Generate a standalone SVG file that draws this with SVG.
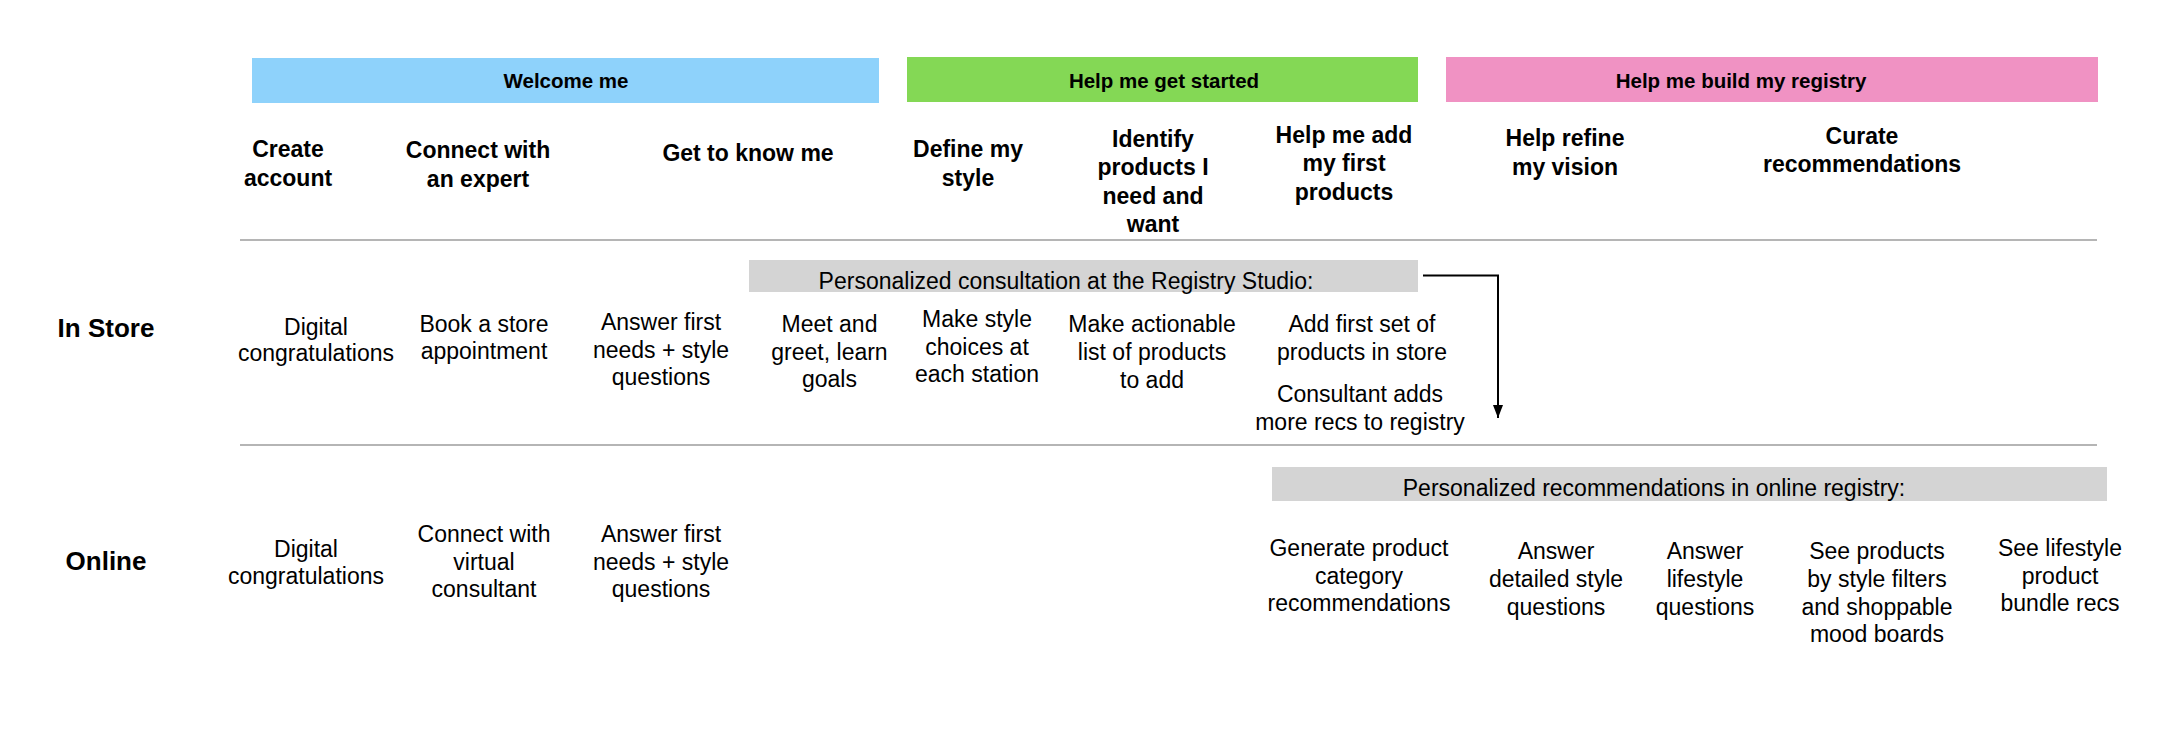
<svg xmlns="http://www.w3.org/2000/svg" width="2174" height="736" viewBox="0 0 2174 736">
<style>
text{font-family:"Liberation Sans",Arial,Helvetica,sans-serif;fill:#000;text-anchor:middle}
.bar{font-size:20.5px;font-weight:bold}
.hd{font-size:23px;font-weight:bold}
.row{font-size:26px;font-weight:bold}
.b{font-size:23px}
.sep{stroke:#B5B5B5;stroke-width:2;fill:none}
.band{fill:#D4D4D4}
</style>
<defs>
<marker id="ah" markerWidth="13" markerHeight="10" refX="13" refY="5" orient="auto" markerUnits="userSpaceOnUse" viewBox="0 0 13 10">
<path d="M0,0 L13,5 L0,10 Z" fill="#000"/>
</marker>
</defs>
<rect width="2174" height="736" fill="#fff"/>

<g id="phase-welcome">
<rect x="252" y="58" width="627" height="45" fill="#8ED2FB"/>
<text class="bar" x="566" y="88">Welcome me</text>
</g>
<g id="phase-started">
<rect x="907" y="57" width="511" height="45" fill="#84D855"/>
<text class="bar" x="1164" y="88">Help me get started</text>
</g>
<g id="phase-build">
<rect x="1446" y="57" width="652" height="45" fill="#F092C3"/>
<text class="bar" x="1741" y="88">Help me build my registry</text>
</g>

<g id="separators">
<line class="sep" x1="240" y1="240" x2="2097" y2="240"/>
<line class="sep" x1="240" y1="445" x2="2097" y2="445"/>
</g>

<g id="h-create"><text class="hd" x="288" y="157">Create<tspan x="288" y="186">account</tspan></text></g>
<g id="h-connect"><text class="hd" x="478" y="158">Connect with<tspan x="478" y="187">an expert</tspan></text></g>
<g id="h-know"><text class="hd" x="748" y="161">Get to know me</text></g>
<g id="h-define"><text class="hd" x="968" y="157">Define my<tspan x="968" y="186">style</tspan></text></g>
<g id="h-identify"><text class="hd" x="1153" y="147">Identify<tspan x="1153" y="175">products I</tspan><tspan x="1153" y="203.5">need and</tspan><tspan x="1153" y="232">want</tspan></text></g>
<g id="h-add"><text class="hd" x="1344" y="142.5">Help me add<tspan x="1344" y="171">my first</tspan><tspan x="1344" y="200">products</tspan></text></g>
<g id="h-refine"><text class="hd" x="1565" y="146">Help refine<tspan x="1565" y="174.5">my vision</tspan></text></g>
<g id="h-curate"><text class="hd" x="1862" y="143.5">Curate<tspan x="1862" y="172">recommendations</tspan></text></g>

<g id="lane-instore"><text class="row" x="106" y="336.5">In Store</text></g>
<g id="lane-online"><text class="row" x="106" y="570">Online</text></g>

<g id="band-studio">
<rect class="band" x="749" y="260" width="669" height="32"/>
<text class="b" x="1066" y="289">Personalized consultation at the Registry Studio:</text>
</g>

<g id="s-digital"><text class="b" x="316" y="335">Digital<tspan x="316" y="361">congratulations</tspan></text></g>
<g id="s-book"><text class="b" x="484" y="332">Book a store<tspan x="484" y="359">appointment</tspan></text></g>
<g id="s-answer"><text class="b" x="661" y="330">Answer first<tspan x="661" y="357.5">needs + style</tspan><tspan x="661" y="384.5">questions</tspan></text></g>
<g id="s-meet"><text class="b" x="829.5" y="332">Meet and<tspan x="829.5" y="359.5">greet, learn</tspan><tspan x="829.5" y="387">goals</tspan></text></g>
<g id="s-style"><text class="b" x="977" y="327">Make style<tspan x="977" y="354.5">choices at</tspan><tspan x="977" y="382">each station</tspan></text></g>
<g id="s-list"><text class="b" x="1152" y="332">Make actionable<tspan x="1152" y="360">list of products</tspan><tspan x="1152" y="387.5">to add</tspan></text></g>
<g id="s-addfirst"><text class="b" x="1362" y="332">Add first set of<tspan x="1362" y="360">products in store</tspan></text></g>
<g id="s-consultant"><text class="b" x="1360" y="402">Consultant adds<tspan x="1360" y="430">more recs to registry</tspan></text></g>

<g id="band-online">
<rect class="band" x="1272" y="467" width="835" height="34"/>
<text class="b" x="1654" y="495.5">Personalized recommendations in online registry:</text>
</g>

<g id="o-digital"><text class="b" x="306" y="557">Digital<tspan x="306" y="583.5">congratulations</tspan></text></g>
<g id="o-connect"><text class="b" x="484" y="542">Connect with<tspan x="484" y="570">virtual</tspan><tspan x="484" y="597">consultant</tspan></text></g>
<g id="o-answer"><text class="b" x="661" y="542">Answer first<tspan x="661" y="570">needs + style</tspan><tspan x="661" y="597">questions</tspan></text></g>
<g id="o-generate"><text class="b" x="1359" y="556">Generate product<tspan x="1359" y="583.5">category</tspan><tspan x="1359" y="611">recommendations</tspan></text></g>
<g id="o-detailed"><text class="b" x="1556" y="558.5">Answer<tspan x="1556" y="586.5">detailed style</tspan><tspan x="1556" y="614.5">questions</tspan></text></g>
<g id="o-lifestyle"><text class="b" x="1705" y="558.5">Answer<tspan x="1705" y="586.5">lifestyle</tspan><tspan x="1705" y="614.5">questions</tspan></text></g>
<g id="o-filters"><text class="b" x="1877" y="558.5">See products<tspan x="1877" y="586.5">by style filters</tspan><tspan x="1877" y="614.5">and shoppable</tspan><tspan x="1877" y="642">mood boards</tspan></text></g>
<g id="o-bundle"><text class="b" x="2060" y="556">See lifestyle<tspan x="2060" y="583.5">product</tspan><tspan x="2060" y="611">bundle recs</tspan></text></g>

<g id="connectors">
<path d="M1423,275.5 L1498,275.5 L1498,418" fill="none" stroke="#000" stroke-width="2" marker-end="url(#ah)"/>
</g>
</svg>
